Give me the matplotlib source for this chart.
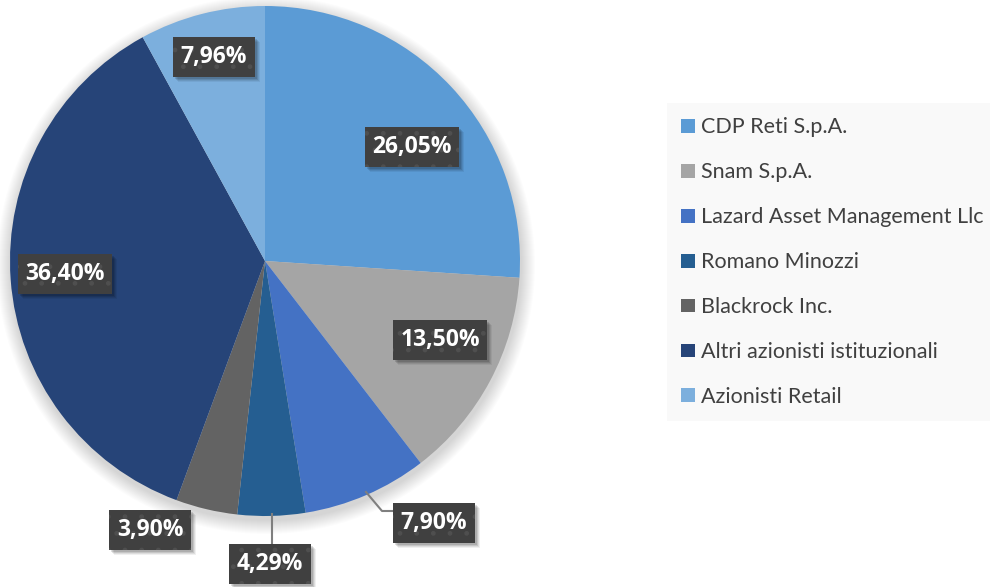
import numpy as np
import matplotlib
matplotlib.use("Agg")
import matplotlib.pyplot as plt
from matplotlib.patches import Circle, Rectangle

names = ["CDP Reti S.p.A.", "Snam S.p.A.", "Lazard Asset Management Llc",
         "Romano Minozzi", "Blackrock Inc.", "Altri azionisti istituzionali",
         "Azionisti Retail"]
shares = [26.05, 13.50, 7.90, 4.29, 3.90, 36.40, 7.96]
labels = ["26,05%", "13,50%", "7,90%", "4,29%", "3,90%", "36,40%", "7,96%"]
colors = ["#5B9BD5", "#A5A5A5", "#4472C4", "#255E91", "#636363", "#264478", "#7CAFDD"]

# label centres in pixels (top-left origin)
label_pos = [(412, 147), (440, 340), (434, 523), (270, 564), (150, 530), (65, 274), (214, 57)]

W, H = 990, 587
fig = plt.figure(figsize=(9.9, 5.87), dpi=100)
ax = fig.add_axes([0, 0, 1, 1])

cx, cy, R = 265, H - 261, 255

# soft shadow under the pie
for i in range(14):
    ax.add_patch(Circle((cx + 1, cy - 4), R + 14 - i, color="#000000", alpha=0.012, lw=0, zorder=0))

wedges, _ = ax.pie(shares, colors=colors, startangle=90, counterclock=False,
                   center=(cx, cy), radius=R, wedgeprops=dict(linewidth=0))
for w in wedges:
    w.set_zorder(2)

# leader lines
ax.plot([366, 382, 393], [H - 492, H - 511, H - 511], color="#7F7F7F", lw=1.5, zorder=3)
ax.plot([272, 272], [H - 514, H - 543], color="#7F7F7F", lw=1.5, zorder=3)

ax.set_xlim(0, W)
ax.set_ylim(0, H)
ax.set_aspect("equal")
ax.axis("off")

plt.rcParams["hatch.color"] = "#4f4f4f"
plt.rcParams["hatch.linewidth"] = 1.0
texts = []
for (px, py), lab in zip(label_pos, labels):
    t = ax.text(px, H - py, lab, color="white", zorder=5, ha="center", va="center",
                fontsize=16.5, fontweight="bold", family=["Open Sans", "DejaVu Sans"],
                bbox=dict(boxstyle="square,pad=0.33", facecolor="#404040",
                          edgecolor="#4f4f4f", linewidth=0, hatch="."))
    texts.append(t)

# drop shadows behind the label boxes
fig.canvas.draw()
inv = ax.transData.inverted()
for t in texts:
    bb = t.get_bbox_patch().get_window_extent()
    (x0, y0), (x1, y1) = inv.transform([(bb.x0, bb.y0), (bb.x1, bb.y1)])
    for k, a in ((5, 0.06), (4, 0.08), (3, 0.10), (2, 0.12)):
        ax.add_patch(Rectangle((x0 + k, y0 - k), x1 - x0, y1 - y0, facecolor="black",
                               alpha=a, lw=0, zorder=4))

leg = fig.legend(wedges, names, loc="upper left", bbox_to_anchor=(667 / W, 1 - 103 / H),
                 frameon=True, fancybox=False, facecolor="#F8F8F8", edgecolor="none",
                 prop=dict(family="Lato", size=15.5), handlelength=0.62, handleheight=0.62,
                 handletextpad=0.3, labelspacing=1.16, borderpad=0.66, borderaxespad=0)
for txt in leg.get_texts():
    txt.set_color("#404040")

fig.savefig("out.png", dpi=100)
